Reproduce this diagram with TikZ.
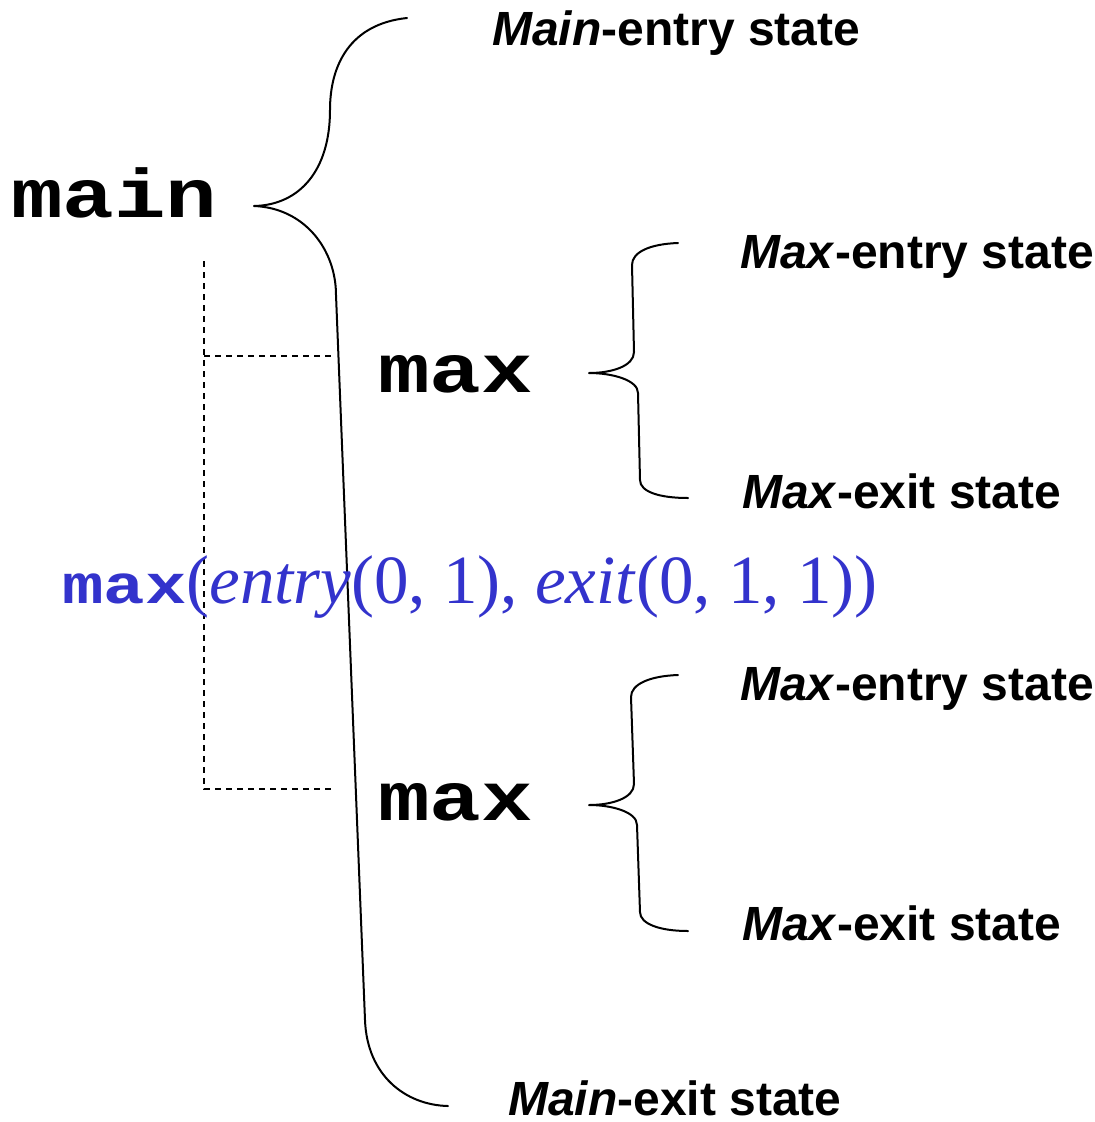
\documentclass[tikz,border=0pt]{standalone}
\usepackage{fontspec}
\usepackage{graphicx}
\setmainfont{Liberation Sans}
\newfontfamily\courfont{Liberation Mono}
\newfontfamily\tnrfont{Liberation Serif}
\definecolor{codeblue}{RGB}{51,51,204}
\newcommand{\monotxt}[1]{\scalebox{1}[0.8]{\courfont\bfseries #1}}
\begin{document}
\begin{tikzpicture}[x=1pt,y=-1pt,
  lbl/.style={inner sep=0pt,anchor=base west,font=\fontsize{48}{50}\selectfont\bfseries},
  code/.style={inner sep=0pt,anchor=base west,font=\fontsize{86}{90}\selectfont},
  brace/.style={line width=2pt,line cap=round,line join=round},
  guide/.style={line width=1.6pt,dash pattern=on 6pt off 5pt}]
\useasboundingbox (0,0) rectangle (1095,1122);

% texts
\node[code] (main) at (11,217) {\monotxt{main}};
\node[code] (max1) at (378,392) {\monotxt{max}};
\node[code] (max2) at (378,820) {\monotxt{max}};

\node[lbl] (mainentry) at (492,45) {\textit{Main}-entry state};
\node[lbl] (mainexit) at (508,1115) {\textit{Main}-exit state};
\node[lbl] (maxentry1) at (740,268) {\textit{Max}-entry state};
\node[lbl] (maxexit1) at (742,508) {\textit{Max}-exit state};
\node[lbl] (maxentry2) at (740,700) {\textit{Max}-entry state};
\node[lbl] (maxexit2) at (742,940) {\textit{Max}-exit state};

% dashed guides
\coordinate (gtop) at (204,261);
\coordinate (g1) at (204,356);
\coordinate (g1e) at (333,356);
\coordinate (g2) at (204,789);
\coordinate (g2e) at (333,789);
\draw[guide] (gtop) -- (g2) -- (g2e);
\draw[guide] (g1) -- (g1e);

% big brace
\draw[brace] (407,18) .. controls (350,24) and (330,65) .. (330,110)
  .. controls (330,170) and (300,205) .. (254,206)
  .. controls (305,208) and (336,250) .. (336,295)
  -- (365,1020) .. controls (367,1075) and (405,1105) .. (448,1106);

% small brace 1
\draw[brace] (678,243) .. controls (650,244) and (632,252) .. (632,265)
  -- (634,352) .. controls (634,366) and (612,373) .. (589,373)
  .. controls (612,373) and (638,380) .. (638,393)
  -- (640,480) .. controls (640,492) and (660,498) .. (688,498);

% small brace 2
\draw[brace] (678,675) .. controls (650,676) and (631,684) .. (631,697)
  -- (634,784) .. controls (634,798) and (612,805) .. (589,805)
  .. controls (612,805) and (637,812) .. (637,825)
  -- (640,912) .. controls (640,924) and (660,931) .. (688,931);

% blue call
\node[inner sep=0pt,anchor=base west,text=codeblue] (call) at (62,603)
  {\fontsize{69}{72}\selectfont\monotxt{max}{\tnrfont(\textit{entry}(0, 1), \textit{exit}(0, 1, 1))}};
\end{tikzpicture}
\end{document}
